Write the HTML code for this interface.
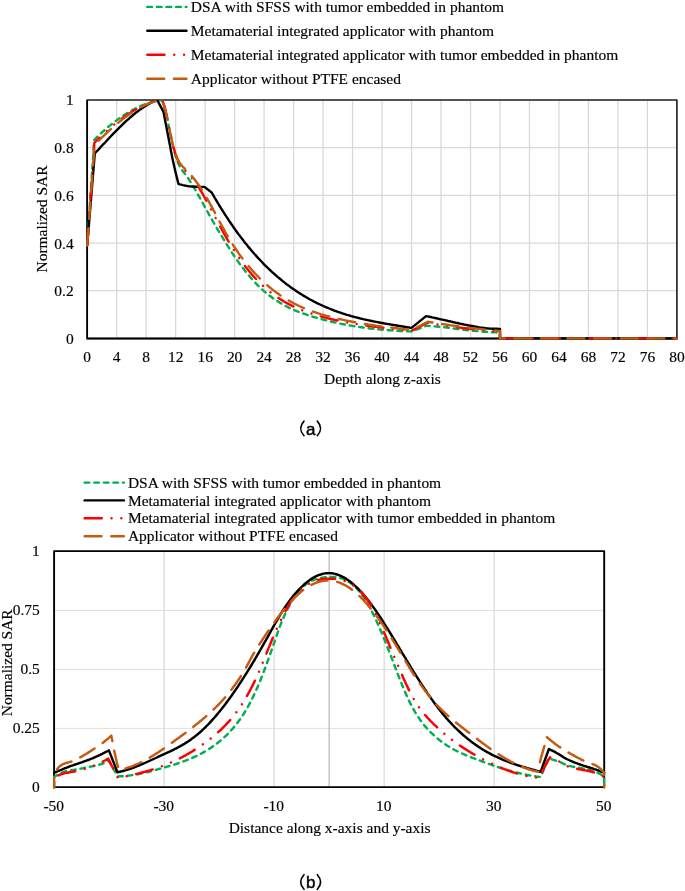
<!DOCTYPE html>
<html><head><meta charset="utf-8"><title>Normalized SAR</title>
<style>
html,body{margin:0;padding:0;background:#fff;}
svg{display:block;will-change:transform;}
svg text{font-family:"Liberation Serif",serif;font-size:15.47px;fill:#000;stroke:#000;stroke-width:0.16px;}
</style></head>
<body>
<svg width="685" height="891" viewBox="0 0 685 891">
<rect width="685" height="891" fill="#fff"/>
<line x1="116.69" y1="100.0" x2="116.69" y2="338.4" stroke="#d9d9d9" stroke-width="1.3"/>
<line x1="146.17" y1="100.0" x2="146.17" y2="338.4" stroke="#d9d9d9" stroke-width="1.3"/>
<line x1="175.65" y1="100.0" x2="175.65" y2="338.4" stroke="#d9d9d9" stroke-width="1.3"/>
<line x1="205.14" y1="100.0" x2="205.14" y2="338.4" stroke="#d9d9d9" stroke-width="1.3"/>
<line x1="234.62" y1="100.0" x2="234.62" y2="338.4" stroke="#d9d9d9" stroke-width="1.3"/>
<line x1="264.11" y1="100.0" x2="264.11" y2="338.4" stroke="#d9d9d9" stroke-width="1.3"/>
<line x1="293.59" y1="100.0" x2="293.59" y2="338.4" stroke="#d9d9d9" stroke-width="1.3"/>
<line x1="323.08" y1="100.0" x2="323.08" y2="338.4" stroke="#d9d9d9" stroke-width="1.3"/>
<line x1="352.56" y1="100.0" x2="352.56" y2="338.4" stroke="#d9d9d9" stroke-width="1.3"/>
<line x1="382.05" y1="100.0" x2="382.05" y2="338.4" stroke="#d9d9d9" stroke-width="1.3"/>
<line x1="411.53" y1="100.0" x2="411.53" y2="338.4" stroke="#d9d9d9" stroke-width="1.3"/>
<line x1="441.02" y1="100.0" x2="441.02" y2="338.4" stroke="#d9d9d9" stroke-width="1.3"/>
<line x1="470.50" y1="100.0" x2="470.50" y2="338.4" stroke="#d9d9d9" stroke-width="1.3"/>
<line x1="499.99" y1="100.0" x2="499.99" y2="338.4" stroke="#d9d9d9" stroke-width="1.3"/>
<line x1="529.47" y1="100.0" x2="529.47" y2="338.4" stroke="#d9d9d9" stroke-width="1.3"/>
<line x1="558.96" y1="100.0" x2="558.96" y2="338.4" stroke="#d9d9d9" stroke-width="1.3"/>
<line x1="588.44" y1="100.0" x2="588.44" y2="338.4" stroke="#d9d9d9" stroke-width="1.3"/>
<line x1="617.93" y1="100.0" x2="617.93" y2="338.4" stroke="#d9d9d9" stroke-width="1.3"/>
<line x1="647.41" y1="100.0" x2="647.41" y2="338.4" stroke="#d9d9d9" stroke-width="1.3"/>
<line x1="87.2" y1="290.72" x2="676.9" y2="290.72" stroke="#d9d9d9" stroke-width="1.3"/>
<line x1="87.2" y1="243.04" x2="676.9" y2="243.04" stroke="#d9d9d9" stroke-width="1.3"/>
<line x1="87.2" y1="195.36" x2="676.9" y2="195.36" stroke="#d9d9d9" stroke-width="1.3"/>
<line x1="87.2" y1="147.68" x2="676.9" y2="147.68" stroke="#d9d9d9" stroke-width="1.3"/>
<rect x="87.2" y="100.0" width="589.70" height="238.40" fill="none" stroke="#1c1c1c" stroke-width="1.6" stroke-linejoin="round"/>
<path d="M87.2,100.0 V338.7 H676.9" fill="none" stroke="#000" stroke-width="1.7" stroke-linejoin="round"/>
<clipPath id="ca"><rect x="85.7" y="100.0" width="592.70" height="239.90"/></clipPath>
<g clip-path="url(#ca)">
<path d="M87.2,245.4 L94.2,139.8 L95.7,138.4 L97.1,137 L98.6,135.6 L100.1,134.2 L101.5,132.8 L103,131.5 L104.5,130.2 L105.9,128.9 L107.4,127.7 L108.9,126.4 L110.3,125.2 L111.8,124 L113.3,122.9 L114.7,121.7 L116.2,120.6 L117.7,119.5 L119.1,118.5 L120.6,117.4 L122.1,116.4 L123.5,115.4 L125,114.5 L126.5,113.6 L127.9,112.7 L129.4,111.8 L130.9,110.9 L132.3,110.1 L133.8,109.3 L135.3,108.6 L136.7,107.8 L138.2,107.1 L139.7,106.4 L141.1,105.8 L142.6,105.2 L144.1,104.6 L145.5,104 L147,103.5 L148.5,103 L149.9,102.6 L151.4,102.1 L152.9,101.7 L154.3,101.4 L155.8,101 L157.3,100.7 L158.7,100.4 L160.2,100.2 L161.6,100 L163.1,102.7 L164.6,107.3 L166.1,113.3 L167.6,120.1 L169,127.5 L170.5,134.8 L172,141.9 L173.5,148.4 L175,154 L176.4,158.7 L177.9,162.5 L179.4,165.7 L180.9,168.3 L182.4,170.5 L183.8,172.5 L185.3,174.4 L186.8,176.4 L188.3,178.4 L189.7,180.6 L191.2,183 L192.7,185.4 L194.2,187.9 L195.7,190.4 L197.1,193 L198.6,195.7 L200.1,198.4 L201.6,201.1 L203.1,203.7 L204.5,206.4 L206,209.1 L207.5,211.7 L209,214.4 L210.4,217 L211.9,219.6 L213.4,222.2 L214.9,224.7 L216.4,227.3 L217.8,229.8 L219.3,232.3 L220.8,234.8 L222.3,237.2 L223.8,239.6 L225.2,242 L226.7,244.4 L228.2,246.7 L229.7,249 L231.1,251.3 L232.6,253.6 L234.1,255.8 L235.6,257.9 L237.1,260.1 L238.5,262.2 L240,264.2 L241.5,266.2 L243,268.2 L244.5,270.1 L245.9,272 L247.4,273.8 L248.9,275.6 L250.4,277.4 L251.8,279 L253.3,280.7 L254.8,282.3 L256.3,283.8 L257.8,285.3 L259.2,286.8 L260.7,288.2 L262.2,289.5 L263.7,290.8 L265.2,292.1 L266.6,293.3 L268.1,294.5 L269.6,295.7 L271.1,296.8 L272.5,297.9 L274,298.9 L275.5,299.9 L277,300.9 L278.5,301.8 L279.9,302.7 L281.4,303.6 L282.9,304.5 L284.4,305.3 L285.9,306.1 L287.3,306.8 L288.8,307.6 L290.3,308.3 L291.8,309 L293.2,309.6 L294.7,310.3 L296.2,310.9 L297.7,311.5 L299.2,312 L300.6,312.6 L302.1,313.2 L303.6,313.7 L305.1,314.2 L306.6,314.7 L308,315.2 L309.5,315.6 L311,316.1 L312.5,316.6 L313.9,317 L315.4,317.4 L316.9,317.9 L318.4,318.3 L319.9,318.7 L321.3,319.1 L322.8,319.5 L324.3,319.9 L325.8,320.3 L327.3,320.6 L328.7,321 L330.2,321.4 L331.7,321.7 L333.2,322 L334.6,322.4 L336.1,322.7 L337.6,323 L339.1,323.3 L340.6,323.7 L342,324 L343.5,324.3 L345,324.5 L346.5,324.8 L348,325.1 L349.4,325.4 L350.9,325.6 L352.4,325.9 L353.9,326.1 L355.3,326.4 L356.8,326.6 L358.3,326.8 L359.8,327.1 L361.3,327.3 L362.7,327.5 L364.2,327.7 L365.7,327.9 L367.2,328.1 L368.7,328.3 L370.1,328.5 L371.6,328.6 L373.1,328.8 L374.6,329 L376,329.1 L377.5,329.3 L379,329.4 L380.5,329.6 L382,329.7 L383.4,329.8 L384.9,330 L386.4,330.1 L387.9,330.2 L389.4,330.3 L390.8,330.4 L392.3,330.5 L393.8,330.6 L395.3,330.7 L396.7,330.8 L398.2,330.9 L399.7,331 L401.2,331.1 L402.7,331.1 L404.1,331.2 L405.6,331.3 L407.1,331.3 L408.6,331.4 L410.1,331.4 L411.5,331.5 L426.3,325.8 L427.8,325.9 L429.2,326 L430.7,326.1 L432.2,326.2 L433.6,326.3 L435.1,326.4 L436.6,326.6 L438.1,326.7 L439.5,326.8 L441,327 L442.5,327.1 L444,327.3 L445.4,327.4 L446.9,327.6 L448.4,327.8 L449.9,328 L451.3,328.2 L452.8,328.4 L454.3,328.6 L455.8,328.8 L457.2,329 L458.7,329.2 L460.2,329.4 L461.7,329.5 L463.1,329.7 L464.6,329.9 L466.1,330.1 L467.6,330.2 L469,330.4 L470.5,330.5 L472,330.7 L473.5,330.8 L474.9,330.9 L476.4,331.1 L477.9,331.2 L479.4,331.3 L480.8,331.4 L482.3,331.5 L483.8,331.7 L485.2,331.8 L486.7,331.9 L488.2,332 L489.7,332.1 L491.1,332.2 L492.6,332.3 L494.1,332.4 L495.6,332.4 L497,332.5 L498.5,332.6 L500,332.7 L500,338.4 L676.9,338.4" stroke="#00b050" stroke-width="2.4" fill="none" stroke-linejoin="round" stroke-linecap="round" stroke-dasharray="4.70 4.90"/>
<path d="M87.2,245.4 L94.8,153.4 L96.3,151.8 L97.8,150.2 L99.3,148.6 L100.7,147 L102.2,145.4 L103.7,143.8 L105.2,142.3 L106.7,140.7 L108.2,139.1 L109.7,137.5 L111.1,136 L112.6,134.4 L114.1,132.9 L115.6,131.4 L117.1,129.9 L118.6,128.4 L120.1,126.9 L121.6,125.5 L123,124 L124.5,122.6 L126,121.2 L127.5,119.9 L129,118.6 L130.5,117.2 L132,116 L133.4,114.7 L134.9,113.5 L136.4,112.3 L137.9,111.2 L139.4,110.1 L140.9,109 L142.4,108 L143.8,107 L145.3,106 L146.8,105.1 L148.3,104.2 L149.8,103.4 L151.3,102.6 L152.8,101.9 L154.3,101.2 L155.7,100.6 L157.2,100 L163.5,111.9 L165,119.7 L166.5,127.4 L168,135.2 L169.5,143.1 L171,151.1 L172.5,158.7 L174,165.5 L175.5,171.9 L177,178.1 L178.5,184 L179.9,184.4 L181.3,184.7 L182.8,185.1 L184.2,185.4 L185.7,185.7 L187.1,185.9 L188.5,186.2 L190,186.4 L191.4,186.5 L192.9,186.6 L194.3,186.7 L195.8,186.7 L197.2,186.8 L198.6,186.8 L200.1,186.9 L201.5,186.9 L203,186.9 L204.4,186.9 L211.7,192.5 L213.2,195.1 L214.6,197.6 L216.1,200.1 L217.6,202.6 L219,205 L220.5,207.4 L222,209.8 L223.5,212.1 L224.9,214.4 L226.4,216.7 L227.9,218.9 L229.3,221.1 L230.8,223.3 L232.3,225.4 L233.7,227.5 L235.2,229.6 L236.7,231.7 L238.1,233.7 L239.6,235.6 L241.1,237.6 L242.6,239.5 L244,241.4 L245.5,243.3 L247,245.1 L248.4,246.9 L249.9,248.6 L251.4,250.4 L252.8,252.1 L254.3,253.8 L255.8,255.4 L257.3,257.1 L258.7,258.7 L260.2,260.2 L261.7,261.8 L263.1,263.3 L264.6,264.8 L266.1,266.3 L267.5,267.7 L269,269.1 L270.5,270.5 L271.9,271.9 L273.4,273.2 L274.9,274.5 L276.4,275.8 L277.8,277.1 L279.3,278.3 L280.8,279.5 L282.2,280.7 L283.7,281.9 L285.2,283.1 L286.6,284.2 L288.1,285.3 L289.6,286.4 L291,287.5 L292.5,288.5 L294,289.5 L295.5,290.5 L296.9,291.5 L298.4,292.5 L299.9,293.4 L301.3,294.3 L302.8,295.2 L304.3,296.1 L305.7,297 L307.2,297.8 L308.7,298.7 L310.1,299.5 L311.6,300.3 L313.1,301.1 L314.6,301.8 L316,302.6 L317.5,303.3 L319,304 L320.4,304.7 L321.9,305.4 L323.4,306 L324.8,306.7 L326.3,307.3 L327.8,307.9 L329.3,308.5 L330.7,309.1 L332.2,309.7 L333.7,310.3 L335.1,310.8 L336.6,311.3 L338.1,311.9 L339.5,312.4 L341,312.9 L342.5,313.4 L343.9,313.8 L345.4,314.3 L346.9,314.8 L348.4,315.2 L349.8,315.6 L351.3,316.1 L352.8,316.5 L354.2,316.9 L355.7,317.3 L357.2,317.6 L358.6,318 L360.1,318.4 L361.6,318.7 L363,319.1 L364.5,319.4 L366,319.8 L367.5,320.1 L368.9,320.4 L370.4,320.7 L371.9,321 L373.3,321.3 L374.8,321.6 L376.3,321.9 L377.7,322.2 L379.2,322.5 L380.7,322.8 L382.1,323 L383.6,323.3 L385.1,323.6 L386.6,323.8 L388,324.1 L389.5,324.3 L391,324.6 L392.4,324.8 L393.9,325.1 L395.4,325.3 L396.8,325.5 L398.3,325.8 L399.8,326 L401.2,326.3 L402.7,326.5 L404.2,326.7 L405.7,327 L407.1,327.2 L408.6,327.4 L410.1,327.7 L411.5,327.9 L426.1,316.1 L427.5,316.4 L429,316.7 L430.5,317 L432,317.4 L433.4,317.7 L434.9,318 L436.4,318.3 L437.9,318.6 L439.4,319 L440.8,319.3 L442.3,319.6 L443.8,319.9 L445.3,320.3 L446.8,320.6 L448.2,321 L449.7,321.3 L451.2,321.6 L452.7,322 L454.2,322.3 L455.6,322.7 L457.1,323 L458.6,323.3 L460.1,323.7 L461.5,324 L463,324.3 L464.5,324.6 L466,324.9 L467.5,325.2 L468.9,325.5 L470.4,325.7 L471.9,326 L473.4,326.3 L474.9,326.6 L476.3,326.8 L477.8,327.1 L479.3,327.4 L480.8,327.6 L482.2,327.8 L483.7,328 L485.2,328.2 L486.7,328.4 L488.2,328.5 L489.6,328.6 L491.1,328.6 L492.6,328.7 L494.1,328.7 L495.6,328.8 L497,328.8 L498.5,328.9 L500,328.9 L500,338.4 L676.9,338.4" stroke="#000000" stroke-width="2.4" fill="none" stroke-linejoin="round" stroke-linecap="round"/>
<path d="M87.2,245.4 L94.4,142.9 L95.9,141.4 L97.3,140 L98.8,138.5 L100.3,137.1 L101.7,135.7 L103.2,134.3 L104.7,133 L106.1,131.6 L107.6,130.3 L109,129 L110.5,127.7 L112,126.5 L113.4,125.2 L114.9,124 L116.3,122.8 L117.8,121.7 L119.3,120.5 L120.7,119.4 L122.2,118.3 L123.7,117.2 L125.1,116.2 L126.6,115.2 L128,114.2 L129.5,113.2 L131,112.3 L132.4,111.4 L133.9,110.5 L135.3,109.7 L136.8,108.9 L138.3,108.1 L139.7,107.3 L141.2,106.6 L142.7,105.9 L144.1,105.2 L145.6,104.6 L147,104 L148.5,103.5 L150,102.9 L151.4,102.4 L152.9,102 L154.3,101.6 L155.8,101.2 L157.3,100.8 L158.7,100.5 L160.2,100.2 L161.6,100 L163.1,102.5 L164.6,107 L166.1,112.9 L167.6,119.8 L169,127.1 L170.5,134.2 L172,141 L173.5,147.1 L175,152.3 L176.4,156.7 L177.9,160.2 L179.4,163.1 L180.9,165.5 L182.4,167.4 L183.8,169.1 L185.3,170.7 L186.8,172.2 L188.3,173.8 L189.7,175.5 L191.2,177.2 L192.7,179 L194.2,180.9 L195.7,182.9 L197.1,185 L198.6,187.3 L200.1,189.6 L201.6,192.1 L203.1,194.6 L204.5,197.2 L206,199.9 L207.5,202.6 L209,205.4 L210.4,208.2 L211.9,211 L213.4,213.9 L214.9,216.7 L216.4,219.5 L217.8,222.3 L219.3,225.1 L220.8,227.8 L222.3,230.5 L223.8,233.1 L225.2,235.7 L226.7,238.3 L228.2,240.8 L229.7,243.2 L231.1,245.7 L232.6,248 L234.1,250.4 L235.6,252.7 L237.1,254.9 L238.5,257.1 L240,259.2 L241.5,261.3 L243,263.3 L244.5,265.3 L245.9,267.2 L247.4,269.1 L248.9,270.9 L250.4,272.7 L251.8,274.4 L253.3,276.1 L254.8,277.7 L256.3,279.3 L257.8,280.8 L259.2,282.3 L260.7,283.7 L262.2,285.1 L263.7,286.5 L265.2,287.8 L266.6,289.1 L268.1,290.3 L269.6,291.5 L271.1,292.7 L272.5,293.8 L274,294.9 L275.5,296 L277,297 L278.5,298 L279.9,299 L281.4,299.9 L282.9,300.8 L284.4,301.7 L285.9,302.5 L287.3,303.4 L288.8,304.1 L290.3,304.9 L291.8,305.6 L293.2,306.4 L294.7,307 L296.2,307.7 L297.7,308.4 L299.2,309 L300.6,309.6 L302.1,310.2 L303.6,310.8 L305.1,311.3 L306.6,311.8 L308,312.4 L309.5,312.9 L311,313.4 L312.5,313.8 L313.9,314.3 L315.4,314.8 L316.9,315.2 L318.4,315.7 L319.9,316.1 L321.3,316.5 L322.8,316.9 L324.3,317.3 L325.8,317.7 L327.3,318.1 L328.7,318.5 L330.2,318.8 L331.7,319.2 L333.2,319.5 L334.6,319.9 L336.1,320.2 L337.6,320.5 L339.1,320.8 L340.6,321.2 L342,321.5 L343.5,321.8 L345,322 L346.5,322.3 L348,322.6 L349.4,322.9 L350.9,323.1 L352.4,323.4 L353.9,323.7 L355.3,323.9 L356.8,324.1 L358.3,324.4 L359.8,324.6 L361.3,324.8 L362.7,325.1 L364.2,325.3 L365.7,325.5 L367.2,325.7 L368.7,325.9 L370.1,326.1 L371.6,326.3 L373.1,326.5 L374.6,326.7 L376,326.9 L377.5,327 L379,327.2 L380.5,327.4 L382,327.6 L383.4,327.7 L384.9,327.9 L386.4,328.1 L387.9,328.2 L389.4,328.4 L390.8,328.6 L392.3,328.7 L393.8,328.9 L395.3,329.1 L396.7,329.2 L398.2,329.4 L399.7,329.5 L401.2,329.7 L402.7,329.8 L404.1,330 L405.6,330.1 L407.1,330.3 L408.6,330.5 L410.1,330.6 L411.5,330.8 L427,322.9 L428.5,323.1 L430,323.4 L431.5,323.6 L433,323.8 L434.5,324.1 L436,324.3 L437.4,324.5 L438.9,324.7 L440.4,325 L441.9,325.2 L443.4,325.4 L444.9,325.6 L446.4,325.8 L447.9,326 L449.4,326.2 L450.8,326.4 L452.3,326.6 L453.8,326.8 L455.3,327 L456.8,327.2 L458.3,327.4 L459.8,327.6 L461.3,327.8 L462.8,328 L464.2,328.1 L465.7,328.3 L467.2,328.5 L468.7,328.7 L470.2,328.8 L471.7,329 L473.2,329.2 L474.7,329.3 L476.2,329.5 L477.7,329.6 L479.1,329.8 L480.6,329.9 L482.1,330.1 L483.6,330.2 L485.1,330.4 L486.6,330.5 L488.1,330.7 L489.6,330.8 L491.1,331 L492.5,331.1 L494,331.2 L495.5,331.4 L497,331.5 L498.5,331.6 L500,331.7 L500,338.4 L676.9,338.4" stroke="#ff0000" stroke-width="2.4" fill="none" stroke-linejoin="round" stroke-linecap="round" stroke-dasharray="17.20 9.75 0.01 9.79 0.01 9.74"/>
<path d="M87.2,245.4 L94.6,144.8 L96.1,143.3 L97.6,141.8 L99,140.3 L100.5,138.9 L102,137.4 L103.5,136 L105,134.5 L106.5,133.1 L108,131.7 L109.5,130.4 L111,129 L112.5,127.7 L113.9,126.4 L115.4,125.1 L116.9,123.8 L118.4,122.6 L119.9,121.4 L121.4,120.2 L122.9,119 L124.4,117.9 L125.9,116.7 L127.4,115.7 L128.9,114.6 L130.3,113.6 L131.8,112.6 L133.3,111.6 L134.8,110.6 L136.3,109.7 L137.8,108.9 L139.3,108 L140.8,107.2 L142.3,106.5 L143.8,105.7 L145.3,105 L146.7,104.4 L148.2,103.7 L149.7,103.2 L151.2,102.6 L152.7,102.1 L154.2,101.7 L155.7,101.2 L157.2,100.9 L158.7,100.5 L160.2,100.2 L161.6,100 L163.1,102.9 L164.6,107.5 L166.1,113.4 L167.6,120.2 L169,127.3 L170.5,134.3 L172,141 L173.5,147 L175,152.1 L176.4,156.3 L177.9,159.7 L179.4,162.4 L180.9,164.5 L182.4,166.2 L183.8,167.7 L185.3,169.2 L186.8,170.6 L188.3,172.1 L189.7,173.7 L191.2,175.4 L192.7,177.2 L194.2,179 L195.7,180.9 L197.1,182.9 L198.6,185 L200.1,187.1 L201.6,189.4 L203.1,191.7 L204.5,194.2 L206,196.7 L207.5,199.2 L209,201.8 L210.4,204.5 L211.9,207.2 L213.4,210 L214.9,212.7 L216.4,215.5 L217.8,218.3 L219.3,221.1 L220.8,223.8 L222.3,226.5 L223.8,229.2 L225.2,231.9 L226.7,234.5 L228.2,237 L229.7,239.5 L231.1,241.9 L232.6,244.3 L234.1,246.6 L235.6,248.8 L237.1,251 L238.5,253.1 L240,255.2 L241.5,257.2 L243,259.1 L244.5,261 L245.9,262.9 L247.4,264.7 L248.9,266.5 L250.4,268.2 L251.8,269.9 L253.3,271.6 L254.8,273.2 L256.3,274.8 L257.8,276.3 L259.2,277.8 L260.7,279.2 L262.2,280.7 L263.7,282 L265.2,283.4 L266.6,284.7 L268.1,286 L269.6,287.2 L271.1,288.4 L272.5,289.6 L274,290.8 L275.5,291.9 L277,293 L278.5,294 L279.9,295 L281.4,296 L282.9,297 L284.4,297.9 L285.9,298.9 L287.3,299.7 L288.8,300.6 L290.3,301.4 L291.8,302.2 L293.2,303 L294.7,303.8 L296.2,304.5 L297.7,305.3 L299.2,306 L300.6,306.6 L302.1,307.3 L303.6,307.9 L305.1,308.5 L306.6,309.1 L308,309.7 L309.5,310.3 L311,310.8 L312.5,311.4 L313.9,311.9 L315.4,312.4 L316.9,312.9 L318.4,313.4 L319.9,313.8 L321.3,314.3 L322.8,314.7 L324.3,315.1 L325.8,315.6 L327.3,316 L328.7,316.4 L330.2,316.8 L331.7,317.1 L333.2,317.5 L334.6,317.9 L336.1,318.3 L337.6,318.6 L339.1,319 L340.6,319.3 L342,319.6 L343.5,319.9 L345,320.3 L346.5,320.6 L348,320.9 L349.4,321.2 L350.9,321.5 L352.4,321.8 L353.9,322 L355.3,322.3 L356.8,322.6 L358.3,322.8 L359.8,323.1 L361.3,323.4 L362.7,323.6 L364.2,323.9 L365.7,324.1 L367.2,324.3 L368.7,324.6 L370.1,324.8 L371.6,325 L373.1,325.2 L374.6,325.4 L376,325.7 L377.5,325.9 L379,326.1 L380.5,326.3 L382,326.5 L383.4,326.7 L384.9,326.9 L386.4,327 L387.9,327.2 L389.4,327.4 L390.8,327.6 L392.3,327.8 L393.8,328 L395.3,328.1 L396.7,328.3 L398.2,328.5 L399.7,328.7 L401.2,328.9 L402.7,329 L404.1,329.2 L405.6,329.4 L407.1,329.5 L408.6,329.7 L410.1,329.9 L411.5,330.1 L427.8,321.7 L429.2,322 L430.7,322.2 L432.2,322.5 L433.6,322.7 L435.1,322.9 L436.6,323.2 L438.1,323.4 L439.5,323.6 L441,323.9 L442.5,324.1 L444,324.3 L445.4,324.5 L446.9,324.7 L448.4,324.9 L449.9,325.2 L451.3,325.4 L452.8,325.6 L454.3,325.8 L455.8,326 L457.2,326.2 L458.7,326.4 L460.2,326.6 L461.7,326.8 L463.1,327 L464.6,327.2 L466.1,327.4 L467.6,327.6 L469,327.7 L470.5,327.9 L472,328.1 L473.5,328.3 L474.9,328.4 L476.4,328.6 L477.9,328.8 L479.4,328.9 L480.8,329.1 L482.3,329.3 L483.8,329.4 L485.2,329.6 L486.7,329.7 L488.2,329.9 L489.7,330 L491.1,330.2 L492.6,330.3 L494.1,330.5 L495.6,330.6 L497,330.7 L498.5,330.9 L500,331 L500,338.4 L676.9,338.4" stroke="#c55a11" stroke-width="2.4" fill="none" stroke-linejoin="round" stroke-linecap="round" stroke-dasharray="16.90 9.75"/>
</g>
<text x="87.2" y="362.2" text-anchor="middle" >0</text>
<text x="116.69" y="362.2" text-anchor="middle" >4</text>
<text x="146.17" y="362.2" text-anchor="middle" >8</text>
<text x="175.65" y="362.2" text-anchor="middle" >12</text>
<text x="205.14" y="362.2" text-anchor="middle" >16</text>
<text x="234.62" y="362.2" text-anchor="middle" >20</text>
<text x="264.11" y="362.2" text-anchor="middle" >24</text>
<text x="293.59" y="362.2" text-anchor="middle" >28</text>
<text x="323.08" y="362.2" text-anchor="middle" >32</text>
<text x="352.56" y="362.2" text-anchor="middle" >36</text>
<text x="382.05" y="362.2" text-anchor="middle" >40</text>
<text x="411.53" y="362.2" text-anchor="middle" >44</text>
<text x="441.02" y="362.2" text-anchor="middle" >48</text>
<text x="470.5" y="362.2" text-anchor="middle" >52</text>
<text x="499.99" y="362.2" text-anchor="middle" >56</text>
<text x="529.47" y="362.2" text-anchor="middle" >60</text>
<text x="558.96" y="362.2" text-anchor="middle" >64</text>
<text x="588.44" y="362.2" text-anchor="middle" >68</text>
<text x="617.93" y="362.2" text-anchor="middle" >72</text>
<text x="647.41" y="362.2" text-anchor="middle" >76</text>
<text x="676.9" y="362.2" text-anchor="middle" >80</text>
<text x="73.7" y="344.0" text-anchor="end" >0</text>
<text x="73.7" y="296.32" text-anchor="end" >0.2</text>
<text x="73.7" y="248.64" text-anchor="end" >0.4</text>
<text x="73.7" y="200.96" text-anchor="end" >0.6</text>
<text x="73.7" y="153.28" text-anchor="end" >0.8</text>
<text x="73.7" y="104.5" text-anchor="end" >1</text>
<text x="382.4" y="384.4" text-anchor="middle" >Depth along z-axis</text>
<text transform="translate(46.9,219) rotate(-90)" text-anchor="middle">Normalized SAR</text>
<line x1="147.30" y1="6.9" x2="186.50" y2="6.9" stroke="#00b050" stroke-width="2.4" stroke-linecap="round" stroke-dasharray="4.70 4.90"/>
<text x="190.8" y="11.9" text-anchor="start" >DSA with SFSS with tumor embedded in phantom</text>
<line x1="147.30" y1="30.7" x2="186.50" y2="30.7" stroke="#000000" stroke-width="2.4" stroke-linecap="round"/>
<text x="190.8" y="35.7" text-anchor="start" >Metamaterial integrated applicator with phantom</text>
<line x1="147.30" y1="54.7" x2="186.50" y2="54.7" stroke="#ff0000" stroke-width="2.4" stroke-linecap="round" stroke-dasharray="17.20 9.75 0.01 9.79 0.01 9.74"/>
<text x="190.8" y="59.7" text-anchor="start" >Metamaterial integrated applicator with tumor embedded in phantom</text>
<line x1="147.30" y1="78.7" x2="186.50" y2="78.7" stroke="#c55a11" stroke-width="2.4" stroke-linecap="round" stroke-dasharray="16.90 9.75"/>
<text x="190.8" y="83.7" text-anchor="start" >Applicator without PTFE encased</text>
<path d="M304.0,421.1 Q297.4,428.4 304.0,435.7" fill="none" stroke="#000" stroke-width="1.6" stroke-linecap="round"/>
<path d="M317.3,421.1 Q323.9,428.4 317.3,435.7" fill="none" stroke="#000" stroke-width="1.6" stroke-linecap="round"/>
<text x="310.7" y="434.6" text-anchor="middle" style="font-family:'Liberation Sans',sans-serif;font-size:17px;stroke:#000;stroke-width:0.45px">a</text>
<line x1="164.12" y1="551.45" x2="164.12" y2="787.4" stroke="#d9d9d9" stroke-width="1.2"/>
<line x1="274.14" y1="551.45" x2="274.14" y2="787.4" stroke="#d9d9d9" stroke-width="1.2"/>
<line x1="384.16" y1="551.45" x2="384.16" y2="787.4" stroke="#d9d9d9" stroke-width="1.2"/>
<line x1="494.18" y1="551.45" x2="494.18" y2="787.4" stroke="#d9d9d9" stroke-width="1.2"/>
<line x1="54.1" y1="728.41" x2="604.2" y2="728.41" stroke="#d9d9d9" stroke-width="0.85"/>
<line x1="54.1" y1="669.42" x2="604.2" y2="669.42" stroke="#d9d9d9" stroke-width="0.85"/>
<line x1="54.1" y1="610.44" x2="604.2" y2="610.44" stroke="#d9d9d9" stroke-width="0.85"/>
<line x1="329.15" y1="551.45" x2="329.15" y2="787.4" stroke="#b5b5b5" stroke-width="1.15"/>
<rect x="54.1" y="551.1" width="550.10" height="236" fill="none" stroke="#000" stroke-width="1.9" stroke-linejoin="round"/>
<clipPath id="cb"><rect x="52.6" y="551.45" width="553.10" height="237.45"/></clipPath>
<g clip-path="url(#cb)">
<path d="M54.1,787.4 L54.1,777 L55.2,776.3 L56.3,775.6 L57.4,774.9 L58.5,774.2 L59.7,773.6 L60.8,773 L61.9,772.5 L63,772.2 L64.1,771.8 L65.2,771.5 L66.3,771.2 L67.4,771 L68.5,770.8 L69.7,770.5 L70.8,770.3 L71.9,770.1 L73,769.9 L74.1,769.8 L75.2,769.6 L76.3,769.4 L77.4,769.2 L78.6,769 L79.7,768.8 L80.8,768.6 L81.9,768.4 L83,768.2 L84.1,767.9 L85.2,767.7 L86.3,767.5 L87.4,767.3 L88.6,767.1 L89.7,766.8 L90.8,766.6 L91.9,766.4 L93,766.2 L94.1,765.9 L95.2,765.7 L96.3,765.4 L97.4,765.1 L98.6,764.8 L99.7,764.5 L100.8,764.2 L101.9,763.8 L103,763.5 L104.1,763 L105.2,762.5 L106.3,761.9 L107.4,761.2 L108.6,760.6 L117.9,776.4 L119,776.4 L120.1,776.3 L121.2,776.3 L122.3,776.2 L123.4,776.1 L124.5,776 L125.6,775.9 L126.7,775.8 L127.8,775.7 L128.9,775.6 L130,775.4 L131.1,775.3 L132.2,775.1 L133.3,775 L134.4,774.8 L135.5,774.6 L136.6,774.4 L137.7,774.2 L138.8,774 L139.9,773.7 L141,773.5 L142.1,773.3 L143.2,773 L144.3,772.8 L145.4,772.5 L146.5,772.3 L147.6,772 L148.7,771.7 L149.8,771.5 L150.9,771.2 L152,770.9 L153.1,770.6 L154.2,770.3 L155.3,770 L156.4,769.7 L157.5,769.4 L158.6,769.1 L159.7,768.8 L160.8,768.5 L161.9,768.2 L163,767.9 L164.1,767.5 L165.2,767.2 L166.3,766.9 L167.4,766.6 L168.5,766.3 L169.6,765.9 L170.7,765.6 L171.8,765.3 L173,764.9 L174.1,764.6 L175.2,764.2 L176.3,763.9 L177.4,763.5 L178.5,763.2 L179.6,762.8 L180.7,762.4 L181.8,762 L182.9,761.6 L184,761.2 L185.1,760.8 L186.2,760.4 L187.3,760 L188.4,759.6 L189.5,759.1 L190.6,758.6 L191.7,758.2 L192.8,757.7 L193.9,757.2 L195,756.7 L196.1,756.2 L197.2,755.7 L198.3,755.1 L199.4,754.5 L200.5,754 L201.6,753.4 L202.7,752.8 L203.8,752.2 L204.9,751.5 L206,750.9 L207.1,750.2 L208.2,749.5 L209.3,748.8 L210.4,748.1 L211.5,747.4 L212.6,746.6 L213.7,745.8 L214.8,745 L215.9,744.2 L217,743.4 L218.1,742.5 L219.2,741.6 L220.3,740.7 L221.4,739.8 L222.5,738.8 L223.6,737.9 L224.7,736.9 L225.8,735.8 L226.9,734.8 L228,733.7 L229.1,732.6 L230.2,731.4 L231.3,730.2 L232.4,729 L233.5,727.7 L234.6,726.4 L235.7,725 L236.8,723.6 L237.9,722.2 L239,720.7 L240.1,719.2 L241.2,717.6 L242.3,716 L243.4,714.3 L244.5,712.5 L245.6,710.7 L246.7,708.9 L247.8,706.9 L248.9,705 L250,702.9 L251.1,700.8 L252.2,698.7 L253.3,696.4 L254.4,694.1 L255.5,691.7 L256.6,689.3 L257.7,686.8 L258.8,684.2 L259.9,681.5 L261,678.8 L262.1,676 L263.2,673.2 L264.3,670.3 L265.4,667.3 L266.5,664.4 L267.6,661.4 L268.7,658.3 L269.8,655.2 L270.9,652.1 L272,649 L273.1,645.9 L274.2,642.7 L275.3,639.5 L276.4,636.2 L277.5,633.1 L278.6,630 L279.7,627 L280.8,624.1 L281.9,621.4 L283,618.8 L284.1,616.3 L285.2,613.8 L286.3,611.5 L287.4,609.3 L288.5,607.1 L289.6,605 L290.7,603 L291.8,601.1 L292.9,599.3 L294,597.6 L295.1,596 L296.2,594.4 L297.3,593 L298.4,591.6 L299.5,590.3 L300.6,589.1 L301.7,588 L302.8,587 L303.9,586 L305,585.1 L306.1,584.3 L307.2,583.5 L308.3,582.8 L309.4,582.1 L310.5,581.5 L311.6,580.9 L312.7,580.4 L313.8,580 L314.9,579.6 L316.1,579.2 L317.2,578.9 L318.3,578.6 L319.4,578.3 L320.5,578 L321.6,577.8 L322.7,577.6 L323.8,577.5 L324.9,577.3 L326,577.2 L327.1,577.1 L328.2,577 L329.3,576.9 L330.4,576.9 L331.5,576.9 L332.6,576.9 L333.7,576.9 L334.8,577 L335.9,577.1 L337,577.3 L338.1,577.5 L339.2,577.7 L340.3,578 L341.4,578.3 L342.5,578.7 L343.6,579.1 L344.7,579.6 L345.8,580.1 L346.9,580.6 L348,581.3 L349.1,581.9 L350.2,582.7 L351.3,583.5 L352.4,584.3 L353.5,585.3 L354.6,586.3 L355.7,587.3 L356.8,588.4 L357.9,589.6 L359,590.9 L360.1,592.2 L361.2,593.7 L362.3,595.2 L363.4,596.7 L364.5,598.4 L365.6,600.1 L366.7,601.9 L367.8,603.8 L368.9,605.8 L370,607.8 L371.1,609.9 L372.2,612.1 L373.3,614.3 L374.4,616.6 L375.5,618.9 L376.6,621.3 L377.7,623.7 L378.8,626.2 L379.9,628.7 L381,631.3 L382.1,633.9 L383.2,636.6 L384.3,639.3 L385.4,642 L386.5,644.8 L387.6,647.5 L388.7,650.4 L389.8,653.2 L390.9,656 L392,658.9 L393.1,661.8 L394.2,664.7 L395.3,667.5 L396.4,670.4 L397.5,673.2 L398.6,676.1 L399.7,678.9 L400.8,681.6 L401.9,684.4 L403,687 L404.1,689.7 L405.2,692.3 L406.3,694.8 L407.4,697.2 L408.5,699.6 L409.6,701.9 L410.7,704.1 L411.8,706.2 L412.9,708.2 L414,710.2 L415.1,712.1 L416.2,713.9 L417.3,715.6 L418.4,717.3 L419.5,718.9 L420.6,720.5 L421.7,721.9 L422.8,723.4 L423.9,724.8 L425,726.1 L426.1,727.4 L427.2,728.6 L428.3,729.8 L429.4,731 L430.5,732.1 L431.6,733.2 L432.7,734.2 L433.8,735.2 L434.9,736.2 L436,737.2 L437.1,738.1 L438.2,739.1 L439.3,739.9 L440.4,740.8 L441.5,741.6 L442.6,742.4 L443.7,743.2 L444.8,744 L445.9,744.7 L447,745.5 L448.1,746.2 L449.2,746.8 L450.3,747.5 L451.4,748.1 L452.5,748.8 L453.6,749.4 L454.7,750 L455.8,750.5 L456.9,751.1 L458.1,751.6 L459.2,752.2 L460.3,752.7 L461.4,753.2 L462.5,753.7 L463.6,754.2 L464.7,754.7 L465.8,755.1 L466.9,755.6 L468,756.1 L469.1,756.5 L470.2,756.9 L471.3,757.4 L472.4,757.8 L473.5,758.2 L474.6,758.6 L475.7,759.1 L476.8,759.5 L477.9,759.9 L479,760.3 L480.1,760.7 L481.2,761.1 L482.3,761.5 L483.4,761.9 L484.5,762.3 L485.6,762.7 L486.7,763.1 L487.8,763.5 L488.9,763.9 L490,764.3 L491.1,764.7 L492.2,765.1 L493.3,765.5 L494.4,765.8 L495.5,766.2 L496.6,766.6 L497.7,767 L498.8,767.3 L499.9,767.7 L501,768 L502.1,768.4 L503.2,768.7 L504.3,769.1 L505.4,769.4 L506.5,769.7 L507.6,770 L508.7,770.4 L509.8,770.7 L510.9,771 L512,771.3 L513.1,771.6 L514.2,771.9 L515.3,772.2 L516.4,772.5 L517.5,772.7 L518.6,773 L519.7,773.3 L520.8,773.5 L521.9,773.8 L523,774 L524.1,774.3 L525.2,774.5 L526.3,774.7 L527.4,775 L528.5,775.2 L529.6,775.4 L530.7,775.6 L531.8,775.8 L532.9,776 L534,776.1 L535.1,776.3 L536.2,776.5 L537.3,776.6 L538.4,776.8 L539.5,776.9 L540.6,777 L548.5,758.6 L549.6,758.8 L550.7,759.1 L551.8,759.4 L552.8,759.7 L553.9,760 L555,760.3 L556.1,760.7 L557.2,761 L558.3,761.4 L559.4,761.8 L560.5,762.3 L561.6,762.8 L562.7,763.4 L563.8,763.9 L564.9,764.4 L566,764.9 L567,765.2 L568.1,765.6 L569.2,765.8 L570.3,766.1 L571.4,766.4 L572.5,766.6 L573.6,766.8 L574.7,767.1 L575.8,767.3 L576.9,767.5 L578,767.7 L579.1,767.8 L580.2,768 L581.3,768.2 L582.3,768.4 L583.4,768.6 L584.5,768.9 L585.6,769.1 L586.7,769.3 L587.8,769.6 L588.9,769.9 L590,770.2 L591.1,770.5 L592.2,770.9 L593.3,771.2 L594.4,771.6 L595.5,772 L596.6,772.5 L597.6,772.9 L598.7,773.4 L599.8,773.9 L600.9,774.5 L602,775.2 L603.1,776 L604.2,776.8 L604.2,787.4" stroke="#00b050" stroke-width="2.45" fill="none" stroke-linejoin="round" stroke-linecap="round" stroke-dasharray="4.65 4.95"/>
<path d="M54.1,772.8 L55.2,772.4 L56.3,771.9 L57.4,771.4 L58.5,770.9 L59.6,770.5 L60.7,770 L61.8,769.6 L62.9,769.1 L64,768.7 L65.1,768.2 L66.2,767.8 L67.2,767.4 L68.3,767 L69.4,766.5 L70.5,766.1 L71.6,765.7 L72.7,765.4 L73.8,765 L74.9,764.6 L76,764.2 L77.1,763.9 L78.2,763.5 L79.3,763.1 L80.4,762.7 L81.5,762.4 L82.6,762 L83.7,761.6 L84.8,761.2 L85.9,760.8 L87,760.4 L88.1,760 L89.2,759.6 L90.3,759.1 L91.4,758.7 L92.5,758.3 L93.5,757.8 L94.6,757.3 L95.7,756.9 L96.8,756.4 L97.9,755.9 L99,755.4 L100.1,754.9 L101.2,754.3 L102.3,753.8 L103.4,753.2 L104.5,752.7 L105.6,752.1 L106.7,751.5 L107.8,751 L108.9,750.4 L117.4,772.2 L118.5,772 L119.6,771.8 L120.7,771.5 L121.8,771.3 L122.9,771 L124,770.7 L125.1,770.4 L126.2,770.1 L127.3,769.7 L128.4,769.4 L129.5,769 L130.6,768.7 L131.7,768.3 L132.8,767.9 L133.9,767.5 L135,767.1 L136.1,766.7 L137.1,766.2 L138.2,765.8 L139.3,765.3 L140.4,764.9 L141.5,764.4 L142.6,763.9 L143.7,763.5 L144.8,763 L145.9,762.5 L147,762 L148.1,761.5 L149.2,761 L150.3,760.5 L151.4,760 L152.5,759.5 L153.6,759 L154.7,758.5 L155.8,758 L156.9,757.5 L158,756.9 L159.1,756.4 L160.2,755.9 L161.3,755.4 L162.4,754.9 L163.5,754.4 L164.6,753.9 L165.7,753.4 L166.8,752.9 L167.9,752.4 L169,751.9 L170.1,751.4 L171.2,750.8 L172.3,750.3 L173.4,749.8 L174.5,749.2 L175.6,748.7 L176.7,748.1 L177.8,747.5 L178.9,746.9 L180,746.3 L181.1,745.7 L182.2,745.1 L183.3,744.4 L184.4,743.8 L185.5,743.1 L186.6,742.4 L187.7,741.7 L188.8,741 L189.9,740.2 L191,739.4 L192.1,738.6 L193.2,737.8 L194.3,737 L195.4,736.1 L196.5,735.3 L197.6,734.3 L198.7,733.4 L199.8,732.5 L200.9,731.5 L202,730.5 L203.1,729.4 L204.2,728.4 L205.3,727.3 L206.4,726.2 L207.5,725.1 L208.6,724 L209.7,722.8 L210.8,721.6 L211.9,720.4 L213,719.2 L214.1,718 L215.2,716.7 L216.3,715.4 L217.4,714.1 L218.5,712.8 L219.6,711.5 L220.7,710.1 L221.8,708.7 L222.9,707.3 L224,705.9 L225.1,704.5 L226.2,703 L227.3,701.5 L228.4,700.1 L229.5,698.5 L230.6,697 L231.7,695.5 L232.8,693.9 L233.9,692.3 L235,690.7 L236.1,689.1 L237.2,687.5 L238.3,685.9 L239.4,684.2 L240.5,682.5 L241.6,680.8 L242.7,679.1 L243.8,677.4 L244.9,675.7 L246,673.9 L247.1,672.2 L248.2,670.4 L249.3,668.6 L250.4,666.8 L251.5,665 L252.6,663.2 L253.7,661.3 L254.8,659.5 L255.9,657.6 L257,655.7 L258.1,653.8 L259.2,651.9 L260.3,650 L261.4,648.1 L262.5,646.1 L263.6,644.2 L264.7,642.2 L265.8,640.3 L266.9,638.3 L268,636.3 L269.1,634.3 L270.2,632.3 L271.3,630.4 L272.4,628.4 L273.5,626.4 L274.6,624.5 L275.7,622.6 L276.8,620.6 L277.9,618.8 L279,616.9 L280.1,615 L281.2,613.2 L282.3,611.4 L283.4,609.7 L284.5,608 L285.6,606.3 L286.7,604.7 L287.8,603.1 L288.9,601.6 L290,600.1 L291.1,598.7 L292.2,597.3 L293.3,595.9 L294.4,594.6 L295.5,593.3 L296.6,592.1 L297.7,590.9 L298.8,589.7 L299.9,588.6 L301,587.5 L302.1,586.4 L303.2,585.4 L304.2,584.4 L305.3,583.5 L306.4,582.6 L307.5,581.7 L308.6,580.9 L309.7,580.1 L310.8,579.3 L311.9,578.6 L313,577.9 L314.1,577.3 L315.2,576.7 L316.3,576.2 L317.4,575.7 L318.5,575.2 L319.6,574.8 L320.7,574.5 L321.8,574.1 L322.9,573.8 L324,573.6 L325.1,573.4 L326.2,573.3 L327.3,573.2 L328.4,573.1 L329.5,573.1 L330.6,573.2 L331.7,573.3 L332.8,573.4 L333.9,573.6 L335,573.9 L336.1,574.2 L337.2,574.5 L338.3,574.9 L339.4,575.3 L340.5,575.8 L341.6,576.3 L342.7,576.8 L343.8,577.4 L344.9,578.1 L346,578.7 L347.1,579.5 L348.2,580.2 L349.3,581 L350.4,581.8 L351.5,582.7 L352.6,583.6 L353.7,584.6 L354.8,585.6 L355.9,586.6 L357,587.6 L358.1,588.7 L359.2,589.9 L360.3,591 L361.4,592.2 L362.5,593.4 L363.6,594.7 L364.7,596 L365.8,597.3 L366.9,598.7 L368,600.1 L369.1,601.5 L370.2,602.9 L371.3,604.4 L372.4,605.9 L373.5,607.4 L374.6,608.9 L375.7,610.5 L376.8,612.1 L377.9,613.7 L379,615.4 L380.1,617 L381.2,618.7 L382.3,620.4 L383.4,622.1 L384.5,623.8 L385.6,625.6 L386.7,627.3 L387.8,629.1 L388.9,630.9 L390,632.7 L391.1,634.5 L392.2,636.3 L393.3,638.1 L394.4,639.9 L395.5,641.7 L396.6,643.6 L397.7,645.4 L398.8,647.2 L399.9,649.1 L401,650.9 L402.1,652.8 L403.2,654.6 L404.3,656.4 L405.4,658.2 L406.5,660.1 L407.6,661.9 L408.7,663.7 L409.8,665.5 L410.9,667.3 L412,669.1 L413.1,670.9 L414.2,672.6 L415.3,674.4 L416.4,676.2 L417.5,677.9 L418.6,679.6 L419.7,681.4 L420.8,683.1 L421.9,684.8 L423,686.5 L424.1,688.1 L425.2,689.8 L426.3,691.4 L427.4,693.1 L428.5,694.7 L429.6,696.3 L430.7,697.8 L431.8,699.4 L432.9,700.9 L434,702.5 L435.1,704 L436.2,705.4 L437.3,706.9 L438.4,708.3 L439.5,709.8 L440.6,711.2 L441.7,712.5 L442.8,713.9 L443.9,715.2 L445,716.5 L446.1,717.8 L447.2,719 L448.3,720.3 L449.4,721.5 L450.5,722.7 L451.6,723.9 L452.7,725 L453.8,726.2 L454.9,727.3 L456,728.4 L457.1,729.4 L458.2,730.5 L459.3,731.5 L460.4,732.5 L461.5,733.5 L462.6,734.5 L463.7,735.5 L464.8,736.4 L465.9,737.3 L467,738.2 L468.1,739.1 L469.2,740 L470.3,740.8 L471.3,741.7 L472.4,742.5 L473.5,743.3 L474.6,744.1 L475.7,744.9 L476.8,745.6 L477.9,746.4 L479,747.1 L480.1,747.8 L481.2,748.5 L482.3,749.2 L483.4,749.9 L484.5,750.5 L485.6,751.2 L486.7,751.8 L487.8,752.4 L488.9,753 L490,753.6 L491.1,754.2 L492.2,754.8 L493.3,755.3 L494.4,755.9 L495.5,756.4 L496.6,756.9 L497.7,757.4 L498.8,757.9 L499.9,758.4 L501,758.9 L502.1,759.4 L503.2,759.8 L504.3,760.3 L505.4,760.7 L506.5,761.2 L507.6,761.6 L508.7,762 L509.8,762.4 L510.9,762.9 L512,763.2 L513.1,763.6 L514.2,764 L515.3,764.4 L516.4,764.8 L517.5,765.1 L518.6,765.5 L519.7,765.8 L520.8,766.2 L521.9,766.5 L523,766.9 L524.1,767.2 L525.2,767.5 L526.3,767.8 L527.4,768.2 L528.5,768.5 L529.6,768.8 L530.7,769.1 L531.8,769.4 L532.9,769.7 L534,770 L535.1,770.3 L536.2,770.6 L537.3,770.9 L538.4,771.2 L539.5,771.5 L540.6,771.8 L548.9,749 L550,749.5 L551.1,750.1 L552.2,750.6 L553.3,751.2 L554.4,751.7 L555.5,752.3 L556.6,753 L557.7,753.6 L558.8,754.2 L559.9,754.9 L561,755.6 L562.1,756.3 L563.2,757.1 L564.4,757.8 L565.5,758.4 L566.6,759 L567.7,759.5 L568.8,760 L569.9,760.5 L571,761 L572.1,761.5 L573.2,761.9 L574.3,762.4 L575.4,762.8 L576.5,763.2 L577.6,763.6 L578.7,764 L579.9,764.4 L581,764.8 L582.1,765.2 L583.2,765.6 L584.3,765.9 L585.4,766.3 L586.5,766.6 L587.6,767 L588.7,767.3 L589.8,767.6 L590.9,768 L592,768.3 L593.1,768.7 L594.2,769.1 L595.3,769.4 L596.5,769.8 L597.6,770.2 L598.7,770.6 L599.8,771.1 L600.9,771.5 L602,771.9 L603.1,772.3 L604.2,772.8" stroke="#000000" stroke-width="2.45" fill="none" stroke-linejoin="round" stroke-linecap="round"/>
<path d="M54.1,787.4 L54.1,778 L55.2,777.3 L56.3,776.6 L57.4,776 L58.5,775.4 L59.6,774.9 L60.7,774.4 L61.8,774 L62.9,773.7 L64,773.4 L65.1,773.1 L66.3,772.9 L67.4,772.7 L68.5,772.5 L69.6,772.3 L70.7,772.1 L71.8,771.9 L72.9,771.7 L74,771.5 L75.1,771.3 L76.2,771.1 L77.3,770.8 L78.4,770.6 L79.5,770.3 L80.6,770 L81.7,769.7 L82.8,769.4 L83.9,769.1 L85,768.8 L86.1,768.4 L87.2,768.1 L88.3,767.7 L89.5,767.3 L90.6,766.9 L91.7,766.5 L92.8,766.1 L93.9,765.7 L95,765.2 L96.1,764.8 L97.2,764.3 L98.3,763.8 L99.4,763.3 L100.5,762.7 L101.6,762.2 L102.7,761.6 L103.8,761 L104.9,760.5 L106,759.9 L107.1,759.2 L108.2,758.6 L117.9,778 L119,777.8 L120.1,777.5 L121.2,777.3 L122.3,777.1 L123.4,776.9 L124.5,776.7 L125.6,776.5 L126.7,776.2 L127.8,776 L128.9,775.8 L130,775.5 L131.1,775.3 L132.2,775 L133.3,774.8 L134.4,774.5 L135.5,774.2 L136.6,774 L137.7,773.7 L138.8,773.4 L139.9,773.1 L141,772.8 L142.1,772.5 L143.2,772.2 L144.3,771.9 L145.4,771.6 L146.5,771.3 L147.6,771 L148.7,770.7 L149.8,770.3 L150.9,770 L152,769.6 L153.1,769.3 L154.2,768.9 L155.3,768.5 L156.4,768.2 L157.5,767.8 L158.6,767.4 L159.7,767 L160.8,766.6 L161.9,766.2 L163,765.8 L164.1,765.3 L165.2,764.9 L166.3,764.5 L167.4,764 L168.5,763.6 L169.6,763.1 L170.7,762.6 L171.8,762.1 L172.9,761.6 L174,761.1 L175.1,760.6 L176.2,760.1 L177.3,759.6 L178.4,759 L179.5,758.5 L180.6,757.9 L181.7,757.3 L182.8,756.8 L183.9,756.2 L185,755.6 L186.1,755 L187.2,754.3 L188.3,753.7 L189.4,753.1 L190.5,752.4 L191.6,751.8 L192.7,751.1 L193.8,750.4 L194.9,749.7 L196,749 L197.1,748.3 L198.2,747.6 L199.3,746.8 L200.4,746.1 L201.5,745.3 L202.6,744.5 L203.7,743.7 L204.8,742.9 L205.9,742.1 L207,741.3 L208.1,740.5 L209.2,739.6 L210.3,738.8 L211.4,737.9 L212.5,737 L213.6,736.1 L214.7,735.2 L215.8,734.2 L216.9,733.3 L218,732.3 L219.1,731.3 L220.2,730.3 L221.3,729.3 L222.4,728.2 L223.5,727.1 L224.6,726 L225.7,724.9 L226.8,723.7 L227.9,722.5 L229,721.3 L230.1,720.1 L231.2,718.8 L232.3,717.5 L233.4,716.1 L234.5,714.7 L235.6,713.3 L236.7,711.8 L237.8,710.3 L238.9,708.7 L240,707.1 L241.1,705.5 L242.2,703.8 L243.3,702.1 L244.4,700.3 L245.5,698.5 L246.6,696.6 L247.7,694.6 L248.8,692.7 L249.9,690.6 L251,688.5 L252.1,686.4 L253.2,684.2 L254.3,681.9 L255.4,679.6 L256.5,677.2 L257.6,674.8 L258.7,672.3 L259.8,669.7 L260.9,667.1 L262,664.4 L263.1,661.7 L264.2,659 L265.3,656.3 L266.4,653.6 L267.5,650.8 L268.6,648.1 L269.7,645.4 L270.8,642.7 L271.9,640.1 L273,637.5 L274.1,634.9 L275.2,632.4 L276.3,629.9 L277.4,627.4 L278.5,625 L279.6,622.7 L280.7,620.4 L281.8,618.2 L282.9,616 L284,613.9 L285.1,611.8 L286.2,609.8 L287.3,607.9 L288.4,606 L289.5,604.2 L290.6,602.4 L291.7,600.8 L292.8,599.2 L293.9,597.7 L295,596.2 L296.1,594.8 L297.2,593.5 L298.3,592.3 L299.4,591.2 L300.5,590.1 L301.6,589 L302.7,588.1 L303.8,587.1 L304.9,586.3 L306,585.5 L307.1,584.8 L308.2,584.1 L309.3,583.5 L310.4,582.9 L311.5,582.3 L312.6,581.8 L313.7,581.4 L314.8,581 L315.9,580.6 L317,580.3 L318.1,580 L319.2,579.8 L320.3,579.5 L321.4,579.3 L322.5,579.2 L323.6,579 L324.7,578.9 L325.8,578.9 L326.9,578.8 L328,578.7 L329.2,578.7 L330.3,578.7 L331.4,578.7 L332.5,578.8 L333.6,578.8 L334.7,578.9 L335.8,579 L336.9,579.1 L338,579.3 L339.1,579.5 L340.2,579.7 L341.3,579.9 L342.4,580.2 L343.5,580.5 L344.6,580.9 L345.7,581.3 L346.8,581.7 L347.9,582.2 L349,582.8 L350.1,583.3 L351.2,584 L352.3,584.6 L353.4,585.4 L354.5,586.2 L355.6,587 L356.7,587.9 L357.8,588.8 L358.9,589.9 L360,590.9 L361.1,592.1 L362.2,593.3 L363.3,594.5 L364.4,595.9 L365.5,597.3 L366.6,598.8 L367.7,600.3 L368.8,602 L369.9,603.7 L371,605.5 L372.1,607.4 L373.2,609.3 L374.3,611.3 L375.4,613.5 L376.5,615.7 L377.6,617.9 L378.7,620.3 L379.8,622.7 L380.9,625.1 L382,627.6 L383.1,630.1 L384.2,632.7 L385.3,635.3 L386.4,638 L387.5,640.6 L388.6,643.3 L389.7,646 L390.8,648.7 L391.9,651.3 L393,653.9 L394.1,656.5 L395.2,659 L396.3,661.6 L397.4,664.1 L398.5,666.7 L399.6,669.2 L400.7,671.8 L401.8,674.3 L402.9,676.9 L404,679.4 L405.1,681.8 L406.2,684.2 L407.3,686.6 L408.4,688.9 L409.5,691.1 L410.6,693.3 L411.7,695.4 L412.8,697.4 L413.9,699.3 L415,701.1 L416.1,702.9 L417.2,704.6 L418.3,706.2 L419.4,707.8 L420.5,709.3 L421.6,710.7 L422.7,712.1 L423.8,713.5 L424.9,714.8 L426,716 L427.1,717.3 L428.2,718.5 L429.3,719.6 L430.4,720.8 L431.5,721.9 L432.6,723 L433.7,724.1 L434.8,725.1 L435.9,726.2 L437,727.2 L438.1,728.2 L439.2,729.2 L440.3,730.2 L441.4,731.2 L442.5,732.1 L443.6,733.1 L444.7,734 L445.8,734.9 L446.9,735.8 L448,736.7 L449.1,737.6 L450.2,738.5 L451.3,739.3 L452.4,740.1 L453.5,741 L454.6,741.8 L455.7,742.6 L456.8,743.4 L457.9,744.1 L459,744.9 L460.1,745.7 L461.2,746.4 L462.3,747.1 L463.4,747.9 L464.5,748.6 L465.6,749.3 L466.7,750 L467.8,750.7 L468.9,751.3 L470,752 L471.1,752.7 L472.2,753.3 L473.3,754 L474.4,754.6 L475.5,755.2 L476.6,755.8 L477.7,756.4 L478.8,757 L479.9,757.6 L481,758.2 L482.1,758.8 L483.2,759.4 L484.3,759.9 L485.4,760.5 L486.5,761 L487.6,761.6 L488.7,762.1 L489.8,762.7 L490.9,763.2 L492,763.7 L493.1,764.2 L494.2,764.8 L495.3,765.3 L496.4,765.8 L497.5,766.2 L498.6,766.7 L499.7,767.2 L500.8,767.7 L501.9,768.1 L503,768.6 L504.1,769 L505.2,769.4 L506.3,769.9 L507.4,770.3 L508.5,770.7 L509.6,771.1 L510.7,771.5 L511.8,771.9 L512.9,772.2 L514,772.6 L515.1,772.9 L516.2,773.3 L517.3,773.6 L518.4,773.9 L519.5,774.3 L520.6,774.6 L521.7,774.8 L522.8,775.1 L523.9,775.4 L525,775.7 L526.1,775.9 L527.2,776.1 L528.3,776.4 L529.4,776.6 L530.5,776.8 L531.6,777 L532.7,777.1 L533.8,777.3 L534.9,777.5 L536,777.6 L537.1,777.7 L538.2,777.9 L539.3,778 L540.4,775.6 L541.4,773.3 L542.5,771.1 L543.6,769 L544.7,766.9 L545.7,764.8 L546.8,762.8 L547.9,760.9 L548.9,759.1 L550,757.3 L551.1,757.7 L552.2,758.2 L553.3,758.6 L554.4,759.1 L555.5,759.6 L556.7,760.2 L557.8,760.7 L558.9,761.3 L560,761.9 L561.1,762.5 L562.2,763.3 L563.3,764 L564.4,764.7 L565.5,765.4 L566.6,765.8 L567.7,766.3 L568.8,766.6 L569.9,767 L571,767.3 L572.1,767.6 L573.2,767.9 L574.3,768.2 L575.4,768.5 L576.6,768.7 L577.7,769 L578.8,769.2 L579.9,769.4 L581,769.6 L582.1,769.8 L583.2,770 L584.3,770.2 L585.4,770.4 L586.5,770.6 L587.6,770.8 L588.7,771.1 L589.8,771.3 L590.9,771.6 L592,771.9 L593.1,772.2 L594.2,772.5 L595.4,772.8 L596.5,773.2 L597.6,773.5 L598.7,773.9 L599.8,774.4 L600.9,774.9 L602,775.6 L603.1,776.4 L604.2,777.3 L604.2,787.4" stroke="#ff0000" stroke-width="2.45" fill="none" stroke-linejoin="round" stroke-linecap="round" stroke-dasharray="17.15 9.80 0.01 9.79 0.01 9.79" stroke-dashoffset="-14.6"/>
<path d="M54.1,787.4 L54.1,776.1 L55.2,773.1 L56.3,770.6 L57.4,768.8 L58.5,767.5 L59.6,766.4 L60.7,765.5 L61.8,764.8 L62.9,764.2 L64,763.8 L65.1,763.4 L66.2,763 L67.3,762.7 L68.4,762.4 L69.5,762.1 L70.6,761.8 L71.7,761.5 L72.8,761.1 L73.9,760.6 L75,760.1 L76.1,759.6 L77.2,759 L78.3,758.4 L79.4,757.8 L80.5,757.2 L81.6,756.6 L82.7,755.9 L83.8,755.3 L84.9,754.6 L86,754 L87.1,753.3 L88.2,752.6 L89.3,751.9 L90.4,751.2 L91.5,750.4 L92.6,749.7 L93.7,749 L94.8,748.3 L95.9,747.5 L97,746.8 L98.1,746.1 L99.2,745.3 L100.3,744.6 L101.4,743.8 L102.5,743 L103.6,742.2 L104.7,741.3 L105.8,740.4 L106.9,739.5 L108,738.6 L109.1,737.6 L110.2,736.6 L111.3,735.6 L112.4,741.5 L113.4,747.1 L114.5,752.1 L115.6,757 L116.6,761.6 L117.7,765.9 L118.7,769.8 L119.8,769.6 L120.9,769.4 L122,769.2 L123.1,769 L124.2,768.7 L125.3,768.4 L126.4,768.1 L127.5,767.8 L128.6,767.4 L129.7,767 L130.8,766.7 L131.9,766.3 L133,765.8 L134.1,765.4 L135.3,764.9 L136.4,764.5 L137.5,764 L138.6,763.5 L139.7,763 L140.8,762.4 L141.9,761.9 L143,761.3 L144.1,760.7 L145.2,760.1 L146.3,759.5 L147.4,758.9 L148.5,758.3 L149.6,757.7 L150.7,757 L151.8,756.3 L152.9,755.7 L154,755 L155.1,754.3 L156.2,753.6 L157.3,752.9 L158.4,752.2 L159.5,751.4 L160.6,750.7 L161.7,750 L162.8,749.2 L163.9,748.5 L165,747.7 L166.1,746.9 L167.2,746.2 L168.3,745.4 L169.4,744.6 L170.5,743.8 L171.6,743 L172.7,742.2 L173.8,741.4 L174.9,740.6 L176,739.8 L177.1,739 L178.2,738.2 L179.3,737.4 L180.4,736.6 L181.5,735.8 L182.6,735 L183.7,734.2 L184.8,733.4 L185.9,732.5 L187,731.7 L188.1,730.9 L189.2,730.1 L190.3,729.2 L191.4,728.4 L192.5,727.5 L193.6,726.6 L194.7,725.8 L195.8,724.9 L196.9,724 L198,723.1 L199.1,722.2 L200.2,721.3 L201.3,720.4 L202.4,719.5 L203.5,718.5 L204.6,717.6 L205.7,716.6 L206.8,715.7 L207.9,714.7 L209,713.7 L210.1,712.7 L211.2,711.7 L212.3,710.7 L213.4,709.6 L214.5,708.6 L215.6,707.5 L216.7,706.4 L217.8,705.3 L218.9,704.2 L220,703 L221.1,701.9 L222.2,700.7 L223.3,699.5 L224.4,698.2 L225.5,697 L226.6,695.7 L227.7,694.4 L228.8,693 L229.9,691.6 L231,690.2 L232.1,688.8 L233.2,687.3 L234.3,685.8 L235.4,684.3 L236.5,682.7 L237.6,681.1 L238.7,679.5 L239.8,677.8 L240.9,676.1 L242,674.3 L243.1,672.5 L244.2,670.6 L245.3,668.8 L246.4,666.8 L247.5,664.8 L248.6,662.8 L249.7,660.7 L250.8,658.7 L251.9,656.7 L253,654.7 L254.2,652.8 L255.3,650.9 L256.4,649.1 L257.5,647.3 L258.6,645.5 L259.7,643.8 L260.8,642.1 L261.9,640.5 L263,638.8 L264.1,637.2 L265.2,635.5 L266.3,633.9 L267.4,632.3 L268.5,630.7 L269.6,629.1 L270.7,627.5 L271.8,625.9 L272.9,624.4 L274,622.9 L275.1,621.3 L276.2,619.8 L277.3,618.3 L278.4,616.8 L279.5,615.4 L280.6,613.9 L281.7,612.5 L282.8,611.1 L283.9,609.8 L285,608.4 L286.1,607.1 L287.2,605.8 L288.3,604.5 L289.4,603.2 L290.5,602 L291.6,600.8 L292.7,599.6 L293.8,598.5 L294.9,597.4 L296,596.3 L297.1,595.3 L298.2,594.3 L299.3,593.3 L300.4,592.3 L301.5,591.4 L302.6,590.5 L303.7,589.7 L304.8,588.9 L305.9,588.1 L307,587.4 L308.1,586.7 L309.2,586 L310.3,585.4 L311.4,584.8 L312.5,584.3 L313.6,583.8 L314.7,583.3 L315.8,582.9 L316.9,582.5 L318,582.1 L319.1,581.8 L320.2,581.5 L321.3,581.2 L322.4,581 L323.5,580.9 L324.6,580.7 L325.7,580.6 L326.8,580.6 L327.9,580.5 L329,580.6 L330.1,580.6 L331.2,580.7 L332.3,580.8 L333.4,581 L334.5,581.2 L335.6,581.5 L336.7,581.8 L337.8,582.1 L338.9,582.4 L340,582.8 L341.1,583.3 L342.2,583.8 L343.3,584.3 L344.4,584.8 L345.5,585.4 L346.6,586 L347.7,586.7 L348.8,587.4 L349.9,588.1 L351,588.9 L352.1,589.7 L353.2,590.6 L354.3,591.4 L355.4,592.4 L356.5,593.3 L357.6,594.3 L358.7,595.3 L359.8,596.4 L360.9,597.4 L362,598.6 L363.1,599.7 L364.2,600.9 L365.3,602.1 L366.4,603.3 L367.5,604.6 L368.6,605.9 L369.7,607.2 L370.8,608.6 L371.9,609.9 L373,611.3 L374.2,612.8 L375.3,614.2 L376.4,615.7 L377.5,617.2 L378.6,618.7 L379.7,620.3 L380.8,621.8 L381.9,623.4 L383,625 L384.1,626.7 L385.2,628.3 L386.3,630 L387.4,631.7 L388.5,633.4 L389.6,635.1 L390.7,636.8 L391.8,638.6 L392.9,640.4 L394,642.1 L395.1,643.9 L396.2,645.7 L397.3,647.5 L398.4,649.4 L399.5,651.2 L400.6,653 L401.7,654.9 L402.8,656.7 L403.9,658.5 L405,660.3 L406.1,662.1 L407.2,663.9 L408.3,665.7 L409.4,667.5 L410.5,669.3 L411.6,671 L412.7,672.8 L413.8,674.5 L414.9,676.2 L416,677.9 L417.1,679.5 L418.2,681.1 L419.3,682.7 L420.4,684.3 L421.5,685.9 L422.6,687.4 L423.7,688.9 L424.8,690.4 L425.9,691.8 L427,693.2 L428.1,694.6 L429.2,696 L430.3,697.4 L431.4,698.7 L432.5,700 L433.6,701.3 L434.7,702.5 L435.8,703.8 L436.9,705 L438,706.1 L439.1,707.3 L440.2,708.4 L441.3,709.5 L442.4,710.6 L443.5,711.7 L444.6,712.7 L445.7,713.7 L446.8,714.7 L447.9,715.7 L449,716.7 L450.1,717.7 L451.2,718.6 L452.3,719.5 L453.4,720.4 L454.5,721.4 L455.6,722.2 L456.7,723.1 L457.8,724 L458.9,724.9 L460,725.8 L461.1,726.6 L462.2,727.5 L463.3,728.3 L464.4,729.2 L465.5,730 L466.6,730.9 L467.7,731.7 L468.8,732.5 L469.9,733.4 L471,734.2 L472.1,735.1 L473.2,735.9 L474.3,736.8 L475.4,737.6 L476.5,738.5 L477.6,739.3 L478.7,740.2 L479.8,741 L480.9,741.8 L482,742.7 L483.1,743.5 L484.2,744.3 L485.3,745.1 L486.4,746 L487.5,746.8 L488.6,747.6 L489.7,748.3 L490.8,749.1 L491.9,749.9 L493.1,750.7 L494.2,751.4 L495.3,752.2 L496.4,752.9 L497.5,753.6 L498.6,754.3 L499.7,755 L500.8,755.7 L501.9,756.4 L503,757.1 L504.1,757.7 L505.2,758.4 L506.3,759 L507.4,759.7 L508.5,760.3 L509.6,760.9 L510.7,761.5 L511.8,762 L512.9,762.6 L514,763.2 L515.1,763.7 L516.2,764.2 L517.3,764.8 L518.4,765.3 L519.5,765.7 L520.6,766.2 L521.7,766.7 L522.8,767.1 L523.9,767.6 L525,768 L526.1,768.4 L527.2,768.8 L528.3,769.1 L529.4,769.5 L530.5,769.8 L531.6,770.2 L532.7,770.5 L533.8,770.8 L534.9,771 L536,771.3 L537.1,771.6 L538.2,771.8 L539.2,765.7 L540.3,760.8 L541.3,756.8 L542.3,753.3 L543.3,749.8 L544.4,746 L545.4,741.6 L546.4,736.9 L547.6,737.8 L548.7,738.7 L549.8,739.6 L550.9,740.5 L552,741.4 L553.1,742.3 L554.2,743.1 L555.3,744 L556.4,744.8 L557.5,745.6 L558.7,746.4 L559.8,747.1 L560.9,747.8 L562,748.6 L563.1,749.3 L564.2,750 L565.3,750.7 L566.4,751.3 L567.5,752 L568.7,752.7 L569.8,753.3 L570.9,754 L572,754.6 L573.1,755.2 L574.2,755.8 L575.3,756.4 L576.4,757 L577.5,757.6 L578.7,758.2 L579.8,758.7 L580.9,759.3 L582,759.8 L583.1,760.4 L584.2,760.9 L585.3,761.4 L586.4,761.8 L587.5,762.3 L588.6,762.7 L589.8,763 L590.9,763.4 L592,763.8 L593.1,764.3 L594.2,764.7 L595.3,765.2 L596.4,765.8 L597.5,766.5 L598.6,767.3 L599.8,768.2 L600.9,769.2 L602,770.4 L603.1,771.5 L604.2,772.8 L604.2,787.4" stroke="#c55a11" stroke-width="2.45" fill="none" stroke-linejoin="round" stroke-linecap="round" stroke-dasharray="16.85 9.80" stroke-dashoffset="8"/>
</g>
<text x="53.7" y="810.9" text-anchor="middle" >-50</text>
<text x="163.72" y="810.9" text-anchor="middle" >-30</text>
<text x="273.74" y="810.9" text-anchor="middle" >-10</text>
<text x="383.76" y="810.9" text-anchor="middle" >10</text>
<text x="493.78" y="810.9" text-anchor="middle" >30</text>
<text x="603.8" y="810.9" text-anchor="middle" >50</text>
<text x="39.8" y="791.8" text-anchor="end" >0</text>
<text x="39.8" y="732.81" text-anchor="end" >0.25</text>
<text x="39.8" y="673.82" text-anchor="end" >0.5</text>
<text x="39.8" y="614.84" text-anchor="end" >0.75</text>
<text x="39.8" y="555.85" text-anchor="end" >1</text>
<text x="329.6" y="832.7" text-anchor="middle" >Distance along x-axis and y-axis</text>
<text transform="translate(11.9,662.8) rotate(-90)" text-anchor="middle">Normalized SAR</text>
<line x1="84.60" y1="482.6" x2="123.90" y2="482.6" stroke="#00b050" stroke-width="2.4" stroke-linecap="round" stroke-dasharray="4.70 4.90"/>
<text x="127.9" y="487.8" text-anchor="start" >DSA with SFSS with tumor embedded in phantom</text>
<line x1="84.60" y1="500.4" x2="123.90" y2="500.4" stroke="#000000" stroke-width="2.4" stroke-linecap="round"/>
<text x="127.9" y="505.6" text-anchor="start" >Metamaterial integrated applicator with phantom</text>
<line x1="84.60" y1="518.2" x2="123.90" y2="518.2" stroke="#ff0000" stroke-width="2.4" stroke-linecap="round" stroke-dasharray="17.20 9.75 0.01 9.79 0.01 9.74"/>
<text x="127.9" y="523.4" text-anchor="start" >Metamaterial integrated applicator with tumor embedded in phantom</text>
<line x1="84.60" y1="536.2" x2="123.90" y2="536.2" stroke="#c55a11" stroke-width="2.4" stroke-linecap="round" stroke-dasharray="16.90 9.75"/>
<text x="127.9" y="541.4" text-anchor="start" >Applicator without PTFE encased</text>
<path d="M304.0,874.7 Q297.4,882.0 304.0,889.3" fill="none" stroke="#000" stroke-width="1.6" stroke-linecap="round"/>
<path d="M317.3,874.7 Q323.9,882.0 317.3,889.3" fill="none" stroke="#000" stroke-width="1.6" stroke-linecap="round"/>
<text x="310.7" y="888.2" text-anchor="middle" style="font-family:'Liberation Sans',sans-serif;font-size:17px;stroke:#000;stroke-width:0.45px">b</text>
</svg>
</body></html>
